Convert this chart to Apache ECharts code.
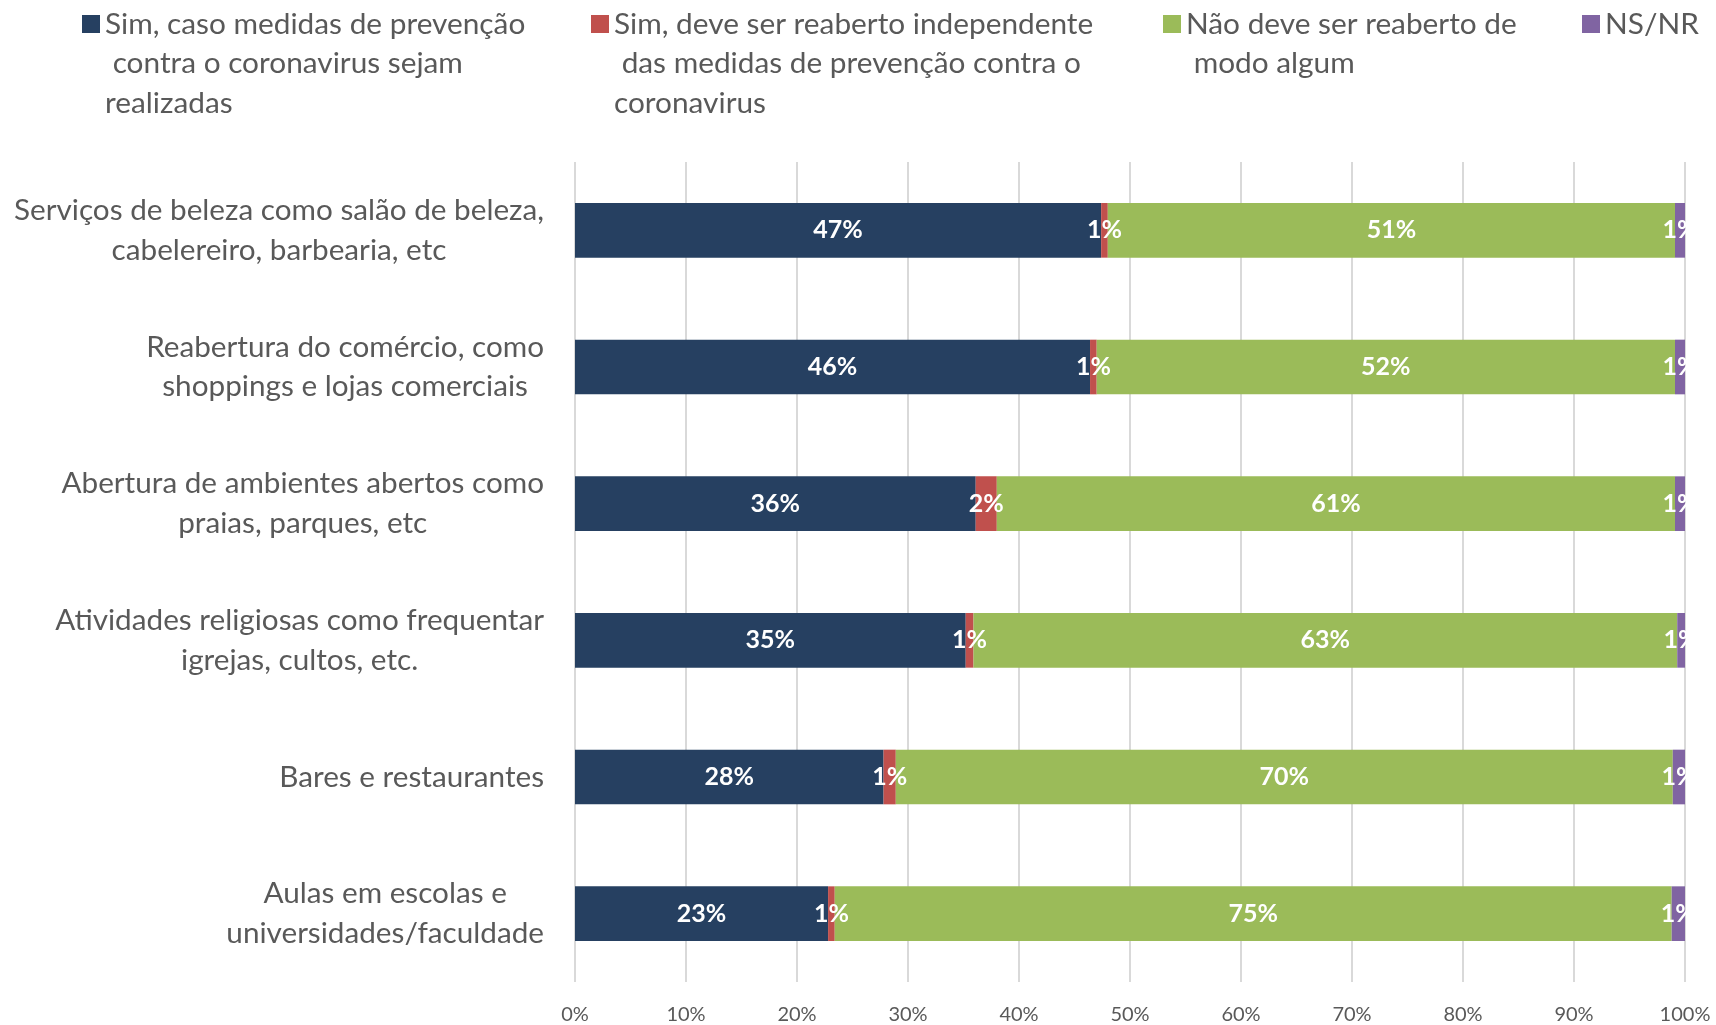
<!DOCTYPE html>
<html><head><meta charset="utf-8">
<script src="https://cdn.jsdelivr.net/npm/echarts@6/dist/echarts.min.js"></script>
<style>html,body{margin:0;padding:0;background:#fff}#c{width:1716px;height:1025px}</style>
</head><body><div id="c"></div>
<script>
const categories = [
  'Serviços de beleza como salão de beleza,\ncabelereiro, barbearia, etc',
  'Reabertura do comércio, como\nshoppings e lojas comerciais',
  'Abertura de ambientes abertos como\npraias, parques, etc',
  'Atividades religiosas como frequentar\nigrejas, cultos, etc.',
  'Bares e restaurantes',
  'Aulas em escolas e\nuniversidades/faculdade'
];
const seriesNames = [
  'Sim, caso medidas de prevenção\n contra o coronavirus sejam\nrealizadas',
  'Sim, deve ser reaberto independente\n das medidas de prevenção contra o\ncoronavirus',
  'Não deve ser reaberto de\n modo algum',
  'NS/NR'
];
const simComMedidas = [47.4, 46.4, 36.1, 35.2, 27.8, 22.8];
const simIndependente = [0.6, 0.6, 1.9, 0.7, 1.1, 0.6];
const naoReabrir = [51.1, 52.1, 61.1, 63.4, 70.0, 75.4];
const nsnr = [0.9, 0.9, 0.9, 0.7, 1.1, 1.2];
const xTicks = [0, 10, 20, 30, 40, 50, 60, 70, 80, 90, 100];

const colors = ['#264061', '#C0504D', '#9BBB59', '#8064A2'];
const FONT = 'Lato';
const LH = 39.5;
const legendLeft = [82, 591, 1163, 1582];

const values = [simComMedidas, simIndependente, naoReabrir, nsnr];

const legends = seriesNames.map((n, i) => {
  const lines = n.split('\n').length;
  const H = (2 * lines - 1) * LH;
  return {
    data: [n],
    left: legendLeft[i],
    top: 24 - H / 2,
    padding: 0,
    itemWidth: 18,
    itemHeight: 18,
    icon: 'rect',
    selectedMode: false,
    formatter: name => '\n'.repeat(lines - 1) + name,
    textStyle: { fontFamily: FONT, fontSize: 29.8, color: '#595959', lineHeight: LH }
  };
});

const series = values.map((v, i) => ({
  name: seriesNames[i],
  type: 'bar',
  stack: 'total',
  barWidth: '40%',
  data: v,
  itemStyle: { color: colors[i] },
  label: {
    show: true,
    position: 'inside',
    formatter: p => Math.round(p.value) + '%',
    color: '#fff',
    fontFamily: FONT,
    fontWeight: 'bold',
    fontSize: 25
  },
  emphasis: { disabled: true }
}));

const chart = echarts.init(document.getElementById('c'));
chart.setOption({
  animation: false,
  color: colors,
  legend: legends,
  grid: { left: 575, right: 31, top: 162, bottom: 43, containLabel: false },
  xAxis: {
    type: 'value', min: xTicks[0], max: xTicks[xTicks.length - 1], interval: 10,
    axisLine: { show: false }, axisTick: { show: false },
    splitLine: { show: true, lineStyle: { color: '#D9D9D9', width: 2 } },
    axisLabel: { formatter: '{value}%', color: '#595959', fontFamily: FONT, fontSize: 20, margin: 23 }
  },
  yAxis: {
    type: 'category', inverse: true, data: categories,
    axisLine: { show: false }, axisTick: { show: false },
    axisLabel: {
      margin: 31,
      formatter: v => v.split('\n').map(l => '{c|' + l + '}').join('\n'),
      rich: { c: { align: 'center', fontFamily: FONT, fontSize: 29.7, lineHeight: 39.5, color: '#595959' } }
    }
  },
  series: series
});
</script></body></html>
